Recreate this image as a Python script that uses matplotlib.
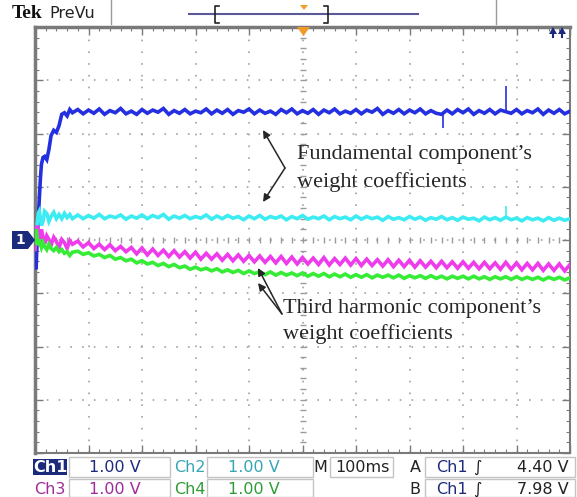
import numpy as np
import matplotlib.pyplot as plt
from matplotlib.patches import Rectangle, Polygon
from matplotlib.lines import Line2D

# ==========================================
# 1. SCOPE CAPTURE (100 ms/div, 1 V/div)
# ==========================================
t_ms = [0, 2, 4, 6, 8, 10, 12, 15, 18, 22, 26, 30, 35, 40, 45, 50, 55, 60, 65, 70,
        80, 90, 100, 110, 120, 130, 140, 150, 160, 170,
        180, 190, 200, 210, 220, 230, 240, 250, 260, 270,
        280, 290, 300, 310, 320, 330, 340, 350, 360, 370,
        380, 390, 400, 410, 420, 430, 440, 450, 460, 470,
        480, 490, 500, 510, 520, 530, 540, 550, 560, 570,
        580, 590, 600, 610, 620, 630, 640, 650, 660, 670,
        680, 690, 700, 710, 720, 730, 740, 750, 760, 770,
        780, 790, 800, 810, 820, 830, 840, 850, 860, 870,
        880, 890, 900, 910, 920, 930, 940, 950, 960, 970,
        980, 990, 1000]

# Ch1 - fundamental weight (blue)
ch1_v = [-0.27, -0.55, 0.01, 0.38, 0.76, 1.14, 1.42, 1.55, 1.57, 1.51,
         1.70, 1.96, 2.06, 2.02, 2.15, 2.36, 2.39, 2.33, 2.45, 2.39,
         2.45, 2.37, 2.44, 2.38, 2.46, 2.36, 2.43, 2.39, 2.47, 2.37,
         2.42, 2.36, 2.45, 2.38, 2.44, 2.40, 2.47, 2.36, 2.43, 2.38,
         2.45, 2.37, 2.42, 2.39, 2.46, 2.37, 2.44, 2.38, 2.45, 2.36,
         2.43, 2.40, 2.46, 2.37, 2.44, 2.38, 2.42, 2.36, 2.45, 2.39,
         2.46, 2.37, 2.43, 2.38, 2.45, 2.36, 2.44, 2.39, 2.46, 2.37,
         2.42, 2.38, 2.45, 2.37, 2.44, 2.40, 2.47, 2.36, 2.43, 2.38,
         2.45, 2.37, 2.44, 2.39, 2.46, 2.37, 2.43, 2.38, 2.36, 2.44,
         2.37, 2.45, 2.39, 2.46, 2.36, 2.43, 2.38, 2.45, 2.37, 2.44,
         2.41, 2.38, 2.45, 2.37, 2.43, 2.39, 2.46, 2.36, 2.44, 2.38,
         2.45, 2.37, 2.42]
ch1_spike_t = [762, 880]
ch1_spike_v = [2.10, 2.90]

# Ch2 - fundamental weight (cyan)
ch2_v = [-0.08, 0.04, 0.29, 0.50, 0.54, 0.42, 0.27, 0.35, 0.54, 0.50,
         0.35, 0.44, 0.52, 0.40, 0.48, 0.40, 0.50, 0.42, 0.48, 0.40,
         0.47, 0.40, 0.46, 0.41, 0.48, 0.40, 0.45, 0.42, 0.47, 0.39,
         0.45, 0.41, 0.47, 0.40, 0.46, 0.42, 0.48, 0.39, 0.45, 0.41,
         0.46, 0.40, 0.44, 0.41, 0.47, 0.39, 0.45, 0.40, 0.46, 0.41,
         0.44, 0.38, 0.45, 0.40, 0.46, 0.39, 0.44, 0.41, 0.45, 0.38,
         0.44, 0.40, 0.46, 0.39, 0.43, 0.40, 0.45, 0.38, 0.44, 0.40,
         0.43, 0.38, 0.45, 0.39, 0.44, 0.40, 0.43, 0.37, 0.44, 0.39,
         0.42, 0.38, 0.44, 0.39, 0.43, 0.37, 0.42, 0.39, 0.44, 0.38,
         0.42, 0.37, 0.43, 0.39, 0.41, 0.36, 0.43, 0.38, 0.42, 0.37,
         0.43, 0.38, 0.41, 0.36, 0.42, 0.38, 0.41, 0.36, 0.42, 0.37,
         0.41, 0.37, 0.40]
ch2_spike_t = [880]
ch2_spike_v = [0.63]

# Ch3 - third harmonic weight (magenta)
ch3_v = [-0.18, 0.10, 0.27, 0.16, -0.03, 0.08, 0.20, 0.05, -0.07, 0.08,
         0.01, -0.10, 0.05, -0.03, -0.14, 0.01, -0.05, -0.16, -0.01, -0.08,
         -0.02, -0.13, -0.05, -0.16, -0.08, -0.18, -0.09, -0.20, -0.12, -0.22,
         -0.14, -0.26, -0.15, -0.28, -0.17, -0.29, -0.19, -0.31, -0.20, -0.32,
         -0.22, -0.34, -0.23, -0.36, -0.25, -0.36, -0.26, -0.38, -0.27, -0.39,
         -0.28, -0.40, -0.29, -0.41, -0.30, -0.42, -0.31, -0.43, -0.31, -0.44,
         -0.32, -0.45, -0.33, -0.45, -0.34, -0.46, -0.33, -0.47, -0.35, -0.46,
         -0.34, -0.47, -0.35, -0.48, -0.36, -0.48, -0.37, -0.49, -0.37, -0.50,
         -0.38, -0.50, -0.38, -0.51, -0.39, -0.51, -0.40, -0.52, -0.40, -0.52,
         -0.41, -0.53, -0.41, -0.53, -0.42, -0.54, -0.42, -0.54, -0.43, -0.55,
         -0.42, -0.55, -0.43, -0.56, -0.44, -0.56, -0.44, -0.57, -0.45, -0.57,
         -0.45, -0.58, -0.46]

# Ch4 - third harmonic weight (green)
ch4_v = [-0.05, 0.20, 0.05, -0.10, 0.01, -0.07, -0.14, -0.05, -0.12, -0.18,
         -0.08, -0.16, -0.20, -0.14, -0.22, -0.18, -0.25, -0.22, -0.29, -0.23,
         -0.21, -0.27, -0.24, -0.30, -0.27, -0.33, -0.29, -0.36, -0.33, -0.39,
         -0.36, -0.43, -0.39, -0.45, -0.42, -0.48, -0.44, -0.50, -0.46, -0.52,
         -0.49, -0.55, -0.51, -0.56, -0.53, -0.58, -0.54, -0.60, -0.56, -0.61,
         -0.57, -0.63, -0.58, -0.63, -0.60, -0.65, -0.60, -0.66, -0.61, -0.66,
         -0.62, -0.67, -0.62, -0.68, -0.63, -0.68, -0.63, -0.69, -0.64, -0.69,
         -0.64, -0.70, -0.65, -0.70, -0.65, -0.71, -0.66, -0.70, -0.66, -0.71,
         -0.66, -0.72, -0.67, -0.71, -0.67, -0.72, -0.67, -0.72, -0.68, -0.73,
         -0.68, -0.72, -0.68, -0.73, -0.68, -0.73, -0.69, -0.74, -0.69, -0.73,
         -0.69, -0.74, -0.69, -0.74, -0.70, -0.74, -0.70, -0.75, -0.70, -0.74,
         -0.70, -0.75, -0.71]

# status bar readouts
ch_labels = ['Ch1', 'Ch2', 'Ch3', 'Ch4']
ch_scales = ['1.00 V', '1.00 V', '1.00 V', '1.00 V']
timebase = '100ms'
trig_labels = ['A', 'B']
trig_levels = ['4.40 V', '7.98 V']

W, H = 577, 497
NAVY = '#1c2a7c'
TRACE_COLORS = ['#2430e0', '#3cecf2', '#ee3cec', '#36ec36']
LABEL_COLORS = [NAVY, '#36a6b4', '#a02c98', '#2e9c34']


def fx(x):
    return x / W


def fy(y):
    return 1 - y / H


def fline(xs, ys, **kw):
    fig.add_artist(Line2D([fx(x) for x in xs], [fy(y) for y in ys],
                          transform=fig.transFigure, **kw))


def fpoly(pts, color):
    fig.add_artist(Polygon([(fx(x), fy(y)) for x, y in pts], closed=True,
                           transform=fig.transFigure, facecolor=color,
                           edgecolor='none'))


def fbox(x0, y0, x1, y1, **kw):
    fig.add_artist(Rectangle((fx(x0), fy(y1)), (x1 - x0) / W, (y1 - y0) / H,
                             transform=fig.transFigure, **kw))


# ==========================================
# 2. GRATICULE
# ==========================================
fig = plt.figure(figsize=(W / 100, H / 100), dpi=100)
ax = fig.add_axes([fx(35), fy(453), 535 / W, 426 / H])
ax.set_xlim(0, 1000)
ax.set_ylim(-4, 4)

grid_kw = dict(color='#9a9a9a', lw=1.1, ls=(0, (1.1, 6.6)), zorder=1)
for xv in range(100, 1000, 100):
    ax.axvline(xv, **grid_kw)
for yv in range(-3, 4):
    ax.axhline(yv, **grid_kw)

sub_y = np.arange(-4, 4.01, 0.2)
sub_x = np.arange(0, 1000.1, 20)
ax.plot(np.full(len(sub_y), 500), sub_y, ls='none', marker='_', ms=5,
        color='#9a9a9a', mew=1, zorder=1)
ax.plot(sub_x, np.zeros(len(sub_x)), ls='none', marker='|', ms=5,
        color='#9a9a9a', mew=1, zorder=1)

ax.set_xticks(range(0, 1001, 100))
ax.set_yticks(range(-4, 5))
ax.set_xticks(sub_x, minor=True)
ax.set_yticks(sub_y, minor=True)
ax.tick_params(which='both', direction='in', top=True, right=True,
               labelbottom=False, labelleft=False, color='#7a7a7a')
ax.tick_params(which='major', length=6, width=1)
ax.tick_params(which='minor', length=3, width=0.8)
for side, sp in ax.spines.items():
    sp.set_color('#7a7a7a')
    sp.set_linewidth(2.5 if side in ('top', 'left') else 1.5)

# ==========================================
# 3. TRACES
# ==========================================
for vals, col in zip([ch1_v, ch2_v, ch3_v, ch4_v], TRACE_COLORS):
    ax.plot(t_ms, vals, color=col, lw=2.6, zorder=3, solid_joinstyle='miter')
ax.vlines(ch1_spike_t, 2.41, ch1_spike_v, color=TRACE_COLORS[0], lw=1.2, zorder=3)
ax.vlines(ch2_spike_t, 0.40, ch2_spike_v, color=TRACE_COLORS[1], lw=1.2, zorder=3)

# ==========================================
# 4. ANNOTATIONS
# ==========================================
arrow_kw = dict(arrowstyle='-|>', color='#262626', lw=1.1, mutation_scale=11,
                shrinkA=0, shrinkB=0)
for tip in [(263, 130), (263, 202)]:
    ax.annotate('', xy=(fx(tip[0]), fy(tip[1])), xytext=(fx(285), fy(168)),
                xycoords='figure fraction', textcoords='figure fraction',
                arrowprops=arrow_kw)
for tip in [(258, 268), (258, 283)]:
    ax.annotate('', xy=(fx(tip[0]), fy(tip[1])), xytext=(fx(282), fy(314)),
                xycoords='figure fraction', textcoords='figure fraction',
                arrowprops=arrow_kw)

txt_kw = dict(family='Liberation Serif', fontsize=16, color='#262626', va='center')
fig.text(fx(297), fy(155), 'Fundamental component\u2019s', **txt_kw)
fig.text(fx(297), fy(182), 'weight coefficients', **txt_kw)
fig.text(fx(283), fy(308), 'Third harmonic component\u2019s', **txt_kw)
fig.text(fx(283), fy(334), 'weight coefficients', **txt_kw)

# channel 1 ground marker
fpoly([(12, 231), (28, 231), (35, 240), (28, 249), (12, 249)], NAVY)
fig.text(fx(20), fy(240), '1', color='white', fontsize=10, fontweight='bold',
         ha='center', va='center')

# ==========================================
# 5. HEADER
# ==========================================
fig.text(fx(12), fy(14), 'Tek', family='Liberation Serif', fontweight='bold',
         fontsize=14, va='center', color='#111111')
fig.text(fx(49), fy(14), 'PreVu', fontsize=11.5, va='center', color='#222222')
fline([111, 111], [0, 24], color='#9a9a9a', lw=1)
fline([496, 496], [0, 24], color='#9a9a9a', lw=1)
fline([189, 418], [14, 14], color='#5a5a9a', lw=1.5)
for bx, d in [(215, 1), (328, -1)]:
    fline([bx + 4 * d, bx, bx, bx + 4 * d], [6, 6, 23, 23], color='#222222', lw=1.2)
fpoly([(300, 5), (308, 5), (304, 10)], '#f0a030')
fpoly([(297, 27), (310, 27), (303.5, 36)], '#f09a28')
for ax_x in [553, 562]:
    fpoly([(ax_x - 4, 34), (ax_x + 4, 34), (ax_x, 27)], NAVY)
    fline([ax_x, ax_x], [33, 37], color=NAVY, lw=1.5)

# ==========================================
# 6. STATUS BAR
# ==========================================
box_kw = dict(facecolor='none', edgecolor='#c4c4c4', lw=1)
rows = [467, 489]
for r, y0, y1 in [(0, 457, 477), (1, 479, 497)]:
    fbox(69, y0, 170, y1, **box_kw)
    fbox(207, y0, 313, y1, **box_kw)
    fbox(425, y0, 575, y1, **box_kw)
fbox(330, 457, 393, 477, **box_kw)
fbox(33, 459, 67, 475, facecolor=NAVY, edgecolor='none')

bar_kw = dict(fontsize=11.5, ha='center', va='center')
for i, (lab, sc) in enumerate(zip(ch_labels, ch_scales)):
    r = rows[i // 2]
    cx = 50 if i % 2 == 0 else 190
    vx = 115 if i % 2 == 0 else 254
    col = 'white' if i == 0 else LABEL_COLORS[i]
    fig.text(fx(cx), fy(r), lab, color=col, fontweight='bold' if i == 0 else 'normal',
             **bar_kw)
    fig.text(fx(vx), fy(r), sc, color=LABEL_COLORS[i], **bar_kw)

fig.text(fx(320), fy(rows[0]), 'M', color='#222222', **bar_kw)
fig.text(fx(362), fy(rows[0]), timebase, color='#222222', **bar_kw)
for r, tl, lv in zip(rows, trig_labels, trig_levels):
    fig.text(fx(415), fy(r), tl, color='#222222', **bar_kw)
    fig.text(fx(452), fy(r), 'Ch1', color=NAVY, **bar_kw)
    fig.text(fx(477), fy(r), '\u222b', color='#222222', **bar_kw)
    fig.text(fx(543), fy(r), lv, color='#222222', **bar_kw)

fig.savefig('out.png', dpi=100)
